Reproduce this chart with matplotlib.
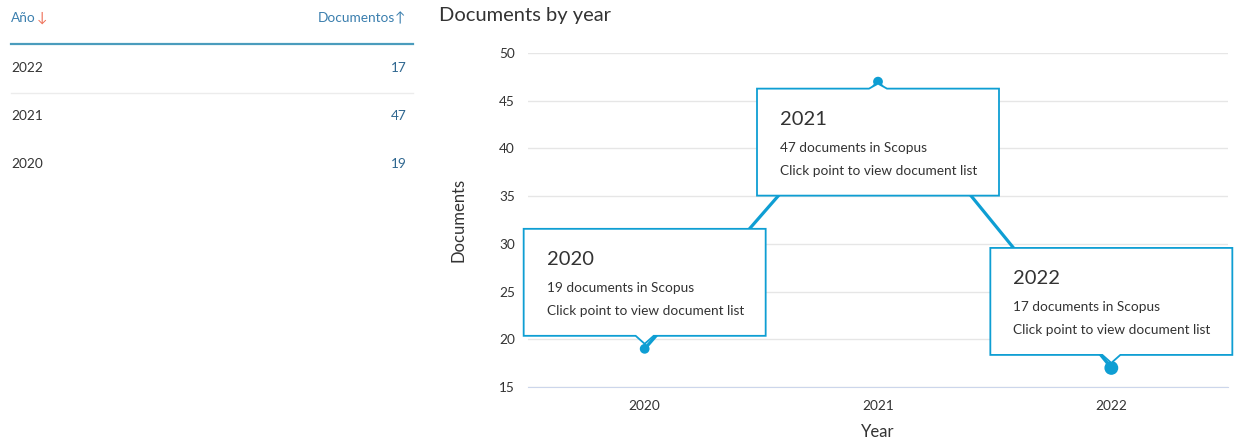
import matplotlib.pyplot as plt
import matplotlib.transforms as mtransforms
from matplotlib.patches import Polygon
from matplotlib.lines import Line2D

plt.rcParams['font.family'] = ['Lato', 'DejaVu Sans']

# data
years = [2020, 2021, 2022]
docs = [19, 47, 17]
tip_side = ['above', 'below', 'above']

W, H = 1241, 440
BLUE = '#0e9ed3'
TXT = '#333333'

fig = plt.figure(figsize=(W / 100, H / 100), dpi=100)


def fx(x):
    return x / W


def fy(y):
    return 1 - y / H


# ---- left table ----
fig.text(fx(11), fy(18), 'Año', color='#3b7fae', fontsize=9.8, va='center')
fig.text(fx(37), fy(18), '↓', color='#ee6f57', fontsize=10, va='center')
fig.text(fx(395), fy(18), 'Documentos', color='#3b7fae', fontsize=9.8, va='center', ha='right')
fig.text(fx(395), fy(18), '↑', color='#3b7fae', fontsize=10, va='center', ha='left')
fig.add_artist(Line2D([fx(11), fx(413)], [fy(44), fy(44)], color='#4a9cbd', lw=1.6))
fig.add_artist(Line2D([fx(11), fx(413)], [fy(93), fy(93)], color='#ececec', lw=1))

rows = sorted(zip(years, docs), reverse=True)
for i, (yr, n) in enumerate(rows):
    ypix = 68 + 48 * i
    fig.text(fx(11), fy(ypix), str(yr), color=TXT, fontsize=9.8, va='center')
    fig.text(fx(407), fy(ypix), str(n), color='#2f6790', fontsize=9.8, va='center', ha='right')

# ---- chart ----
ax = fig.add_axes([fx(528), 53 / H, 700 / W, 334 / H])
ax.plot(years, docs, color=BLUE, lw=2.3, zorder=3)
ax.scatter(years, docs, s=[36, 36, 80], color=BLUE, zorder=4, clip_on=False)

ax.set_xlim(2019.5, 2022.5)
ax.set_ylim(15, 50)
ax.set_yticks(range(15, 51, 5))
ax.set_xticks(years)
ax.set_xticklabels([str(y) for y in years])
ax.grid(axis='y', color='#e6e6e6', lw=1)
ax.set_axisbelow(True)
for s in ['top', 'right', 'left']:
    ax.spines[s].set_visible(False)
ax.spines['bottom'].set_color('#ccd6eb')
ax.tick_params(length=0, labelsize=9.8, labelcolor=TXT)
ax.tick_params(axis='y', pad=9.5)
ax.tick_params(axis='x', pad=9)
ax.set_xlabel('Year', fontsize=12, color=TXT, labelpad=9)
ax.set_ylabel('Documents', fontsize=12, color=TXT, labelpad=23)

fig.text(fx(439), fy(16), 'Documents by year', fontsize=14.5, color=TXT, va='center')

# ---- tooltips ----
bw, bh = 242, 107
for yr, n, side in zip(years, docs, tip_side):
    tr = mtransforms.IdentityTransform() + mtransforms.ScaledTranslation(yr, n, ax.transData)
    left = -121
    if side == 'above':
        top = 13 + bh
        verts = [(left, top), (left + bw, top), (left + bw, top - bh),
                 (9, top - bh), (0, 5), (-9, top - bh), (left, top - bh)]
    else:
        top = -7
        verts = [(left, top), (-9, top), (0, -2), (9, top), (left + bw, top),
                 (left + bw, top - bh), (left, top - bh)]
    poly = Polygon(verts, closed=True, facecolor='white', edgecolor=BLUE,
                   lw=1.3, transform=tr, zorder=5, clip_on=False)
    fig.add_artist(poly)
    tx = left + 23
    fig.text(tx, top - 31, str(yr), transform=tr, fontsize=14.5, color=TXT,
             va='center', zorder=6)
    fig.text(tx, top - 59, f'{n} documents in Scopus', transform=tr, fontsize=9.8,
             color=TXT, va='center', zorder=6)
    fig.text(tx, top - 82, 'Click point to view document list', transform=tr,
             fontsize=9.8, color=TXT, va='center', zorder=6)

fig.savefig('out.png', dpi=100)
